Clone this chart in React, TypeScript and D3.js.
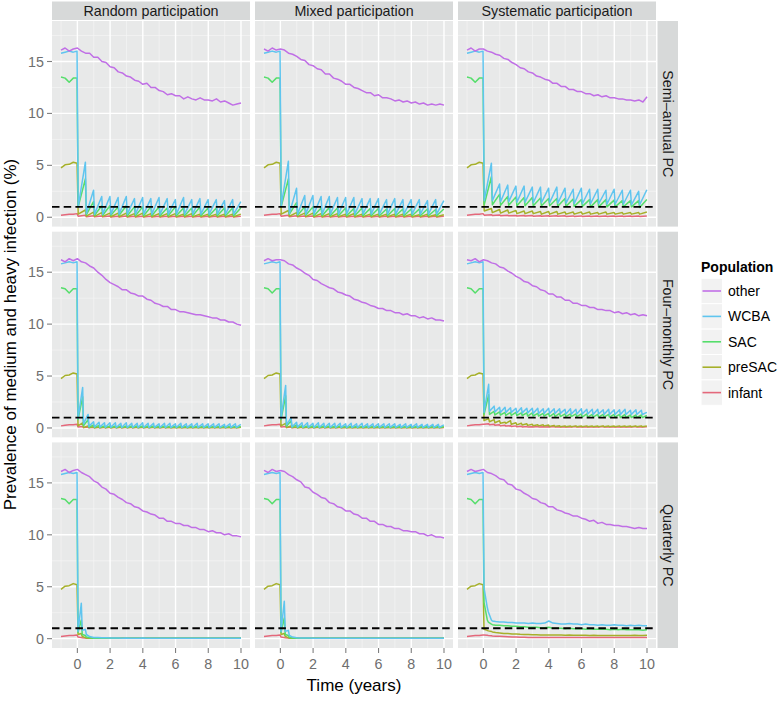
import React from "react";
import * as d3 from "d3";

// ---------- labels / categories ----------
const rowLabels = ["Semi–annual PC", "Four–monthly PC", "Quarterly PC"];
const colLabels = ["Random participation", "Mixed participation", "Systematic participation"];
const groups = ["other", "WCBA", "SAC", "preSAC", "infant"];
const groupColors = ["#C06FE6", "#5FC5EF", "#55DE6B", "#A6B02A", "#E4687B"];
const drawOrder = ["infant", "preSAC", "SAC", "WCBA", "other"];
const xTicks = [0, 2, 4, 6, 8, 10];
const xMinor = [-1, 1, 3, 5, 7, 9];
const yTicks = [0, 5, 10, 15];
const yMinor = [2.5, 7.5, 12.5, 17.5];
const threshold = 1;
const xTitle = "Time (years)";
const yTitle = "Prevalence of medium and heavy infection (%)";
const legendTitle = "Population";

// ---------- time grids (years) ----------
const tPre = [-1, -0.75, -0.5, -0.25, -0.02];
const tOther = d3.range(-1, 10.001, 0.25);
const tSemi = [...tPre, ...d3.range(20).flatMap((k) => [0.5 * k + 0.05, 0.5 * k + 0.49])];
const tFour = [...tPre, ...d3.range(30).flatMap((k) => [k / 3 + 0.04, (k + 1) / 3 - 0.01])];
const tQuarter = [...tPre, 0.04, 0.24, 0.3, 0.49, 0.55, ...d3.range(0.75, 10.001, 0.25)];

// ---------- pre-treatment values (shared) ----------
const preWCBA = [15.8, 15.9, 16.0, 15.9, 16.0];
const preSACv = [13.5, 13.4, 13.0, 13.4, 13.4];
const prePreSAC = [4.75, 5.05, 5.1, 5.3, 5.2];
const preInfant = [0.2, 0.25, 0.3, 0.3, 0.35];

// ---------- "other" (on tOther) ----------
const semiRandOther = [16.1,16.3,16.0,16.2,16.3, 16.0,15.8,15.8,15.4,15.4,15.0,14.9,14.5,14.4,14.0, 13.9,13.6,13.5,13.2,13.1,12.8,12.9,12.5,12.5,12.2, 12.1,11.8,11.9,11.7,11.7,11.4,11.6,11.4,11.3,11.5, 11.3,11.3,11.2,11.4,11.1,11.2,11.0,10.8,10.9,11.0];
const semiMixOther = [16.2,16.0,16.3,16.1,16.2, 16.1,15.8,15.7,15.5,15.2,15.1,14.7,14.6,14.3,14.2, 13.8,13.8,13.4,13.3,13.1,12.8,12.8,12.5,12.4,12.2, 12.0,12.0,11.7,11.8,11.5,11.5,11.4,11.2,11.3,11.1, 11.2,11.0,11.1,10.9,11.0,10.8,10.9,10.8,10.9,10.8];
const semiSysOther = [16.1,16.3,16.0,16.2,16.2, 16.0,15.9,15.7,15.6,15.3,15.2,14.9,14.7,14.4,14.3, 14.0,13.9,13.6,13.5,13.3,13.2,12.9,12.9,12.6,12.6, 12.3,12.3,12.1,12.1,11.9,11.9,11.7,11.8,11.6,11.7, 11.5,11.5,11.4,11.4,11.3,11.3,11.2,11.3,11.1,11.6];
const fourRandOther = [16.2,16.0,16.3,16.1,16.3, 16.0,15.9,15.6,15.4,15.0,14.7,14.3,14.0,13.8,13.6, 13.3,13.3,13.0,12.9,12.7,12.7,12.4,12.3,12.0,11.9, 11.7,11.7,11.4,11.4,11.2,11.2,11.1,11.0,10.9,10.9, 10.8,10.7,10.6,10.6,10.4,10.4,10.2,10.2,10.0,9.9];
const fourMixOther = [16.1,16.3,16.1,16.2,16.2, 16.1,15.8,15.7,15.4,15.2,14.9,14.7,14.3,14.2,13.9, 13.7,13.5,13.4,13.1,13.0,12.8,12.7,12.4,12.3,12.1, 12.0,11.8,11.7,11.5,11.5,11.3,11.3,11.1,11.1,10.9, 11.0,10.8,10.8,10.6,10.7,10.5,10.6,10.4,10.4,10.3];
const fourSysOther = [16.2,16.1,16.3,16.0,16.2, 16.1,15.9,15.8,15.5,15.4,15.1,14.9,14.6,14.4,14.1, 14.0,13.7,13.6,13.3,13.2,12.9,12.9,12.6,12.6,12.3, 12.3,12.0,12.0,11.8,11.8,11.6,11.6,11.4,11.4,11.3, 11.3,11.1,11.2,11.0,11.1,10.9,11.0,10.8,10.9,10.8];
const quarRandOther = [16.1,16.3,16.0,16.2,16.3, 16.0,15.8,15.6,15.2,15.0,14.6,14.4,14.0,13.9,13.6, 13.4,13.1,13.0,12.7,12.6,12.3,12.2,12.0,11.9,11.6, 11.6,11.3,11.3,11.1,11.1,10.9,10.9,10.7,10.7,10.5, 10.5,10.3,10.4,10.2,10.2,10.0,10.1,9.9,9.9,9.8];
const quarMixOther = [16.2,16.0,16.3,16.1,16.2, 16.1,15.8,15.6,15.3,15.1,14.6,14.5,14.1,13.9,13.6, 13.5,13.1,13.0,12.7,12.6,12.3,12.3,12.0,11.9,11.6, 11.6,11.3,11.3,11.0,11.0,10.8,10.8,10.6,10.6,10.4, 10.4,10.3,10.3,10.1,10.1,9.9,10.0,9.8,9.8,9.7];
const quarSysOther = [16.1,16.3,16.1,16.2,16.3, 16.0,15.9,15.7,15.4,15.3,14.9,14.8,14.4,14.3,14.0, 13.8,13.5,13.4,13.1,13.0,12.7,12.7,12.4,12.3,12.1, 12.0,11.8,11.8,11.6,11.5,11.3,11.4,11.1,11.2,11.0, 11.0,10.9,10.9,10.8,10.8,10.7,10.6,10.7,10.6,10.6];

// ---------- semi-annual PC (post-treatment, on tSemi) ----------
const semiRandWCBA = [1.0,5.3, 0.35,2.6, 0.3,2.0, 0.3,2.0, 0.3,1.9, 0.3,2.0, 0.3,1.8, 0.3,1.9, 0.3,1.8, 0.3,1.9, 0.3,1.8, 0.3,1.7, 0.3,1.9, 0.3,1.7, 0.3,1.8, 0.3,1.7, 0.3,1.7, 0.3,1.6, 0.3,1.7, 0.3,1.5];
const semiRandSAC = [1.0,3.7, 0.25,1.5, 0.2,1.1, 0.2,1.1, 0.2,1.0, 0.2,1.1, 0.15,1.0, 0.15,1.0, 0.15,1.0, 0.15,1.0, 0.15,0.9, 0.15,1.0, 0.15,0.9, 0.15,0.9, 0.15,1.0, 0.15,0.9, 0.15,0.9, 0.15,0.9, 0.15,0.9, 0.15,0.9];
const semiRandPre = [0.3,0.7, 0.1,0.5, 0.08,0.45, 0.08,0.4, 0.05,0.4, 0.05,0.4, 0.05,0.35, 0.05,0.4, 0.05,0.35, 0.05,0.35, 0.05,0.35, 0.05,0.35, 0.05,0.3, 0.05,0.35, 0.05,0.3, 0.05,0.3, 0.05,0.3, 0.05,0.3, 0.05,0.3, 0.05,0.3];
const semiRandInf = [0.1,0.2, 0.05,0.15, 0.04,0.12, 0.04,0.12, 0.03,0.1, 0.03,0.12, 0.03,0.1, 0.03,0.1, 0.03,0.1, 0.03,0.1, 0.03,0.1, 0.03,0.1, 0.03,0.1, 0.03,0.1, 0.03,0.1, 0.03,0.1, 0.03,0.1, 0.03,0.1, 0.03,0.1, 0.03,0.1];

const semiMixWCBA = [1.1,5.4, 0.35,2.8, 0.3,2.1, 0.3,2.1, 0.3,2.0, 0.3,2.0, 0.3,1.9, 0.3,1.9, 0.3,1.9, 0.3,1.8, 0.3,1.8, 0.3,1.8, 0.3,1.7, 0.3,1.8, 0.3,1.7, 0.3,1.7, 0.3,1.7, 0.3,1.6, 0.3,1.7, 0.3,1.6];
const semiMixSAC = [1.0,3.7, 0.3,1.4, 0.2,1.0, 0.2,1.0, 0.15,0.9, 0.15,0.95, 0.15,0.9, 0.15,0.9, 0.15,0.85, 0.15,0.9, 0.15,0.85, 0.15,0.85, 0.15,0.8, 0.15,0.85, 0.15,0.8, 0.15,0.8, 0.15,0.8, 0.15,0.8, 0.15,0.75, 0.15,0.8];
const semiMixPre = [0.3,0.65, 0.1,0.45, 0.08,0.4, 0.06,0.4, 0.05,0.35, 0.05,0.35, 0.05,0.35, 0.05,0.3, 0.05,0.35, 0.05,0.3, 0.05,0.3, 0.05,0.3, 0.05,0.3, 0.05,0.3, 0.05,0.3, 0.05,0.3, 0.05,0.25, 0.05,0.3, 0.05,0.25, 0.05,0.25];
const semiMixInf = [0.1,0.2, 0.05,0.14, 0.04,0.12, 0.04,0.11, 0.03,0.1, 0.03,0.1, 0.03,0.1, 0.03,0.1, 0.03,0.09, 0.03,0.1, 0.03,0.09, 0.03,0.1, 0.03,0.09, 0.03,0.09, 0.03,0.09, 0.03,0.09, 0.03,0.09, 0.03,0.09, 0.03,0.09, 0.03,0.09];

const semiSysWCBA = [1.6,5.2, 1.6,3.2, 1.5,3.1, 1.5,3.0, 1.45,3.0, 1.45,2.9, 1.4,2.9, 1.4,2.8, 1.4,2.9, 1.35,2.8, 1.35,2.7, 1.3,2.8, 1.3,2.7, 1.3,2.7, 1.3,2.6, 1.25,2.7, 1.25,2.6, 1.25,2.6, 1.2,2.5, 1.2,2.65];
const semiSysSAC = [1.2,3.9, 1.2,2.2, 1.15,2.0, 1.15,1.95, 1.1,1.9, 1.1,1.9, 1.1,1.85, 1.1,1.8, 1.1,1.8, 1.05,1.8, 1.05,1.75, 1.05,1.7, 1.05,1.7, 1.0,1.7, 1.0,1.7, 1.0,1.65, 1.0,1.6, 1.0,1.6, 1.0,1.6, 0.95,1.7];
const semiSysPre = [0.6,0.85, 0.45,0.75, 0.4,0.7, 0.4,0.65, 0.35,0.6, 0.35,0.6, 0.35,0.55, 0.3,0.55, 0.3,0.55, 0.3,0.5, 0.3,0.5, 0.3,0.5, 0.3,0.5, 0.3,0.45, 0.3,0.5, 0.3,0.45, 0.3,0.45, 0.3,0.45, 0.3,0.45, 0.3,0.5];
const semiSysInf = [0.2,0.25, 0.18,0.22, 0.15,0.2, 0.14,0.18, 0.12,0.17, 0.12,0.16, 0.1,0.15, 0.1,0.15, 0.1,0.14, 0.1,0.14, 0.08,0.13, 0.08,0.13, 0.08,0.12, 0.08,0.12, 0.08,0.12, 0.08,0.12, 0.08,0.12, 0.08,0.12, 0.08,0.12, 0.08,0.12];

// ---------- four-monthly PC (post-treatment, on tFour) ----------
const fourRandWCBA = [0.9,3.9, 0.4,1.3, 0.15,0.6, 0.1,0.55, 0.08,0.5, 0.06,0.5, 0.06,0.5, 0.05,0.45, 0.05,0.5, 0.05,0.45, 0.05,0.45, 0.05,0.5, 0.05,0.45, 0.05,0.45, 0.05,0.4, 0.05,0.45, 0.05,0.45, 0.05,0.4, 0.05,0.45, 0.05,0.4, 0.05,0.4, 0.05,0.45, 0.05,0.4, 0.05,0.4, 0.05,0.4, 0.05,0.4, 0.05,0.35, 0.05,0.4, 0.05,0.4, 0.05,0.35];
const fourRandSAC = [0.8,3.0, 0.2,0.8, 0.05,0.3, 0.03,0.25, 0.03,0.2, 0.03,0.2, 0.03,0.18, 0.03,0.2, 0.03,0.18, 0.03,0.18, 0.03,0.2, 0.03,0.18, 0.03,0.18, 0.03,0.18, 0.03,0.16, 0.03,0.18, 0.03,0.16, 0.03,0.16, 0.03,0.18, 0.03,0.16, 0.03,0.16, 0.03,0.16, 0.03,0.15, 0.03,0.16, 0.03,0.15, 0.03,0.15, 0.03,0.15, 0.03,0.15, 0.03,0.15, 0.03,0.14];
const fourRandPre = [0.2,0.5, 0.05,0.2, 0.04,0.12, 0.03,0.1, 0.03,0.1, 0.03,0.08, 0.03,0.1, 0.03,0.08, 0.03,0.08, 0.03,0.08, 0.03,0.08, 0.03,0.08, 0.03,0.08, 0.03,0.08, 0.03,0.07, 0.03,0.08, 0.03,0.07, 0.03,0.07, 0.03,0.07, 0.03,0.07, 0.03,0.07, 0.03,0.07, 0.03,0.07, 0.03,0.07, 0.03,0.07, 0.03,0.07, 0.03,0.07, 0.03,0.07, 0.03,0.07, 0.03,0.07];
const fourRandInf = [0.1,0.15, 0.05,0.1, 0.03,0.06, 0.03,0.06, 0.03,0.06, 0.03,0.06, 0.03,0.06, 0.03,0.06, 0.03,0.06, 0.03,0.06, 0.03,0.06, 0.03,0.06, 0.03,0.06, 0.03,0.06, 0.03,0.06, 0.03,0.06, 0.03,0.06, 0.03,0.06, 0.03,0.06, 0.03,0.06, 0.03,0.06, 0.03,0.06, 0.03,0.06, 0.03,0.06, 0.03,0.06, 0.03,0.06, 0.03,0.06, 0.03,0.06, 0.03,0.06, 0.03,0.06];

const fourMixWCBA = [0.9,4.1, 0.3,1.0, 0.1,0.55, 0.08,0.5, 0.06,0.5, 0.06,0.45, 0.05,0.5, 0.05,0.45, 0.05,0.45, 0.05,0.45, 0.05,0.45, 0.05,0.4, 0.05,0.45, 0.05,0.4, 0.05,0.45, 0.05,0.4, 0.05,0.4, 0.05,0.4, 0.05,0.4, 0.05,0.4, 0.05,0.4, 0.05,0.35, 0.05,0.4, 0.05,0.35, 0.05,0.4, 0.05,0.35, 0.05,0.35, 0.05,0.35, 0.05,0.35, 0.05,0.3];
const fourMixSAC = [0.8,3.1, 0.15,0.7, 0.05,0.3, 0.03,0.22, 0.03,0.2, 0.03,0.18, 0.03,0.2, 0.03,0.18, 0.03,0.18, 0.03,0.16, 0.03,0.18, 0.03,0.16, 0.03,0.16, 0.03,0.16, 0.03,0.15, 0.03,0.16, 0.03,0.15, 0.03,0.15, 0.03,0.15, 0.03,0.14, 0.03,0.15, 0.03,0.14, 0.03,0.14, 0.03,0.14, 0.03,0.14, 0.03,0.13, 0.03,0.14, 0.03,0.13, 0.03,0.13, 0.03,0.13];
const fourMixPre = [0.2,0.45, 0.05,0.18, 0.04,0.1, 0.03,0.1, 0.03,0.08, 0.03,0.08, 0.03,0.08, 0.03,0.08, 0.03,0.08, 0.03,0.07, 0.03,0.08, 0.03,0.07, 0.03,0.07, 0.03,0.07, 0.03,0.07, 0.03,0.07, 0.03,0.07, 0.03,0.07, 0.03,0.07, 0.03,0.06, 0.03,0.07, 0.03,0.06, 0.03,0.06, 0.03,0.06, 0.03,0.06, 0.03,0.06, 0.03,0.06, 0.03,0.06, 0.03,0.06, 0.03,0.06];
const fourMixInf = [0.1,0.15, 0.05,0.1, 0.03,0.06, 0.03,0.06, 0.03,0.06, 0.03,0.05, 0.03,0.06, 0.03,0.05, 0.03,0.05, 0.03,0.05, 0.03,0.05, 0.03,0.05, 0.03,0.05, 0.03,0.05, 0.03,0.05, 0.03,0.05, 0.03,0.05, 0.03,0.05, 0.03,0.05, 0.03,0.05, 0.03,0.05, 0.03,0.05, 0.03,0.05, 0.03,0.05, 0.03,0.05, 0.03,0.05, 0.03,0.05, 0.03,0.05, 0.03,0.05, 0.03,0.05];

const fourSysWCBA = [1.5,4.2, 1.6,2.1, 1.55,2.0, 1.5,2.0, 1.5,1.95, 1.5,1.9, 1.45,1.95, 1.45,1.9, 1.45,1.9, 1.4,1.9, 1.4,1.85, 1.4,1.9, 1.4,1.85, 1.4,1.85, 1.4,1.8, 1.35,1.85, 1.35,1.8, 1.35,1.85, 1.35,1.8, 1.35,1.8, 1.3,1.8, 1.35,1.75, 1.3,1.8, 1.3,1.75, 1.3,1.75, 1.3,1.8, 1.3,1.7, 1.3,1.75, 1.3,1.7, 1.3,1.5];
const fourSysSAC = [1.3,3.2, 1.3,1.6, 1.25,1.55, 1.25,1.5, 1.2,1.5, 1.2,1.5, 1.2,1.45, 1.2,1.45, 1.15,1.45, 1.15,1.4, 1.15,1.4, 1.15,1.4, 1.1,1.4, 1.1,1.4, 1.1,1.35, 1.1,1.35, 1.1,1.35, 1.1,1.35, 1.05,1.35, 1.05,1.3, 1.05,1.3, 1.05,1.3, 1.05,1.3, 1.05,1.3, 1.05,1.3, 1.0,1.3, 1.0,1.25, 1.0,1.25, 1.0,1.25, 1.0,1.2];
const fourSysPre = [0.7,0.9, 0.6,0.8, 0.5,0.7, 0.45,0.55, 0.45,0.7, 0.35,0.5, 0.3,0.45, 0.28,0.4, 0.25,0.35, 0.22,0.3, 0.2,0.3, 0.18,0.28, 0.15,0.25, 0.15,0.22, 0.12,0.2, 0.12,0.18, 0.12,0.2, 0.12,0.18, 0.12,0.2, 0.12,0.18, 0.12,0.18, 0.12,0.2, 0.12,0.18, 0.12,0.18, 0.12,0.2, 0.12,0.18, 0.12,0.18, 0.12,0.18, 0.12,0.2, 0.12,0.18];
const fourSysInf = [0.35,0.4, 0.3,0.35, 0.25,0.3, 0.2,0.25, 0.18,0.22, 0.15,0.2, 0.12,0.16, 0.1,0.13, 0.1,0.12, 0.1,0.13, 0.1,0.12, 0.1,0.12, 0.1,0.13, 0.1,0.12, 0.1,0.12, 0.1,0.12, 0.1,0.13, 0.1,0.12, 0.1,0.12, 0.1,0.12, 0.1,0.12, 0.1,0.13, 0.1,0.12, 0.1,0.12, 0.1,0.12, 0.1,0.12, 0.1,0.12, 0.1,0.13, 0.1,0.12, 0.1,0.12];

// ---------- quarterly PC (post-treatment, on tQuarter) ----------
const quarRandWCBA = [0.7,3.4,0.8,0.9,0.4, 0.2,0.12,0.1,0.08,0.08, 0.07,0.06,0.06,0.05,0.06, 0.05,0.05,0.05,0.06,0.05, 0.05,0.05,0.05,0.04,0.05, 0.05,0.04,0.05,0.04,0.04, 0.05,0.04,0.04,0.04,0.04, 0.04,0.04,0.04,0.03,0.04, 0.04,0.03,0.04];
const quarRandSAC = [0.6,1.8,0.4,0.3,0.15, 0.08,0.05,0.04,0.04,0.03, 0.03,0.03,0.03,0.03,0.03, 0.03,0.03,0.03,0.03,0.03, 0.03,0.03,0.03,0.03,0.03, 0.03,0.03,0.03,0.03,0.03, 0.03,0.03,0.03,0.03,0.03, 0.03,0.03,0.03,0.03,0.03, 0.03,0.03,0.03];
const quarRandPre = [0.4,0.5,0.2,0.1,0.06, 0.04,0.03,0.03,0.03,0.03, 0.03,0.03,0.03,0.03,0.03, 0.03,0.03,0.03,0.03,0.03, 0.03,0.03,0.03,0.03,0.03, 0.03,0.03,0.03,0.03,0.03, 0.03,0.03,0.03,0.03,0.03, 0.03,0.03,0.03,0.03,0.03, 0.03,0.03,0.03];
const quarRandInf = [0.15,0.1,0.08,0.06,0.05, 0.04,0.03,0.03,0.03,0.03, 0.03,0.03,0.03,0.03,0.03, 0.03,0.03,0.03,0.03,0.03, 0.03,0.03,0.03,0.03,0.03, 0.03,0.03,0.03,0.03,0.03, 0.03,0.03,0.03,0.03,0.03, 0.03,0.03,0.03,0.03,0.03, 0.03,0.03,0.03];

const quarMixWCBA = [0.7,3.6,0.7,0.8,0.3, 0.15,0.08,0.07,0.06,0.06, 0.05,0.05,0.05,0.05,0.04, 0.05,0.04,0.04,0.05,0.04, 0.04,0.04,0.04,0.04,0.04, 0.04,0.04,0.03,0.04,0.04, 0.03,0.04,0.03,0.03,0.04, 0.03,0.03,0.03,0.03,0.03, 0.03,0.03,0.03];
const quarMixSAC = [0.6,2.0,0.4,0.3,0.12, 0.06,0.04,0.03,0.03,0.03, 0.03,0.03,0.03,0.03,0.03, 0.03,0.03,0.03,0.03,0.03, 0.03,0.03,0.03,0.03,0.03, 0.03,0.03,0.03,0.03,0.03, 0.03,0.03,0.03,0.03,0.03, 0.03,0.03,0.03,0.03,0.03, 0.03,0.03,0.03];
const quarMixPre = [0.4,0.5,0.2,0.1,0.05, 0.04,0.03,0.03,0.03,0.03, 0.03,0.03,0.03,0.03,0.03, 0.03,0.03,0.03,0.03,0.03, 0.03,0.03,0.03,0.03,0.03, 0.03,0.03,0.03,0.03,0.03, 0.03,0.03,0.03,0.03,0.03, 0.03,0.03,0.03,0.03,0.03, 0.03,0.03,0.03];
const quarMixInf = [0.15,0.1,0.08,0.06,0.05, 0.04,0.03,0.03,0.03,0.03, 0.03,0.03,0.03,0.03,0.03, 0.03,0.03,0.03,0.03,0.03, 0.03,0.03,0.03,0.03,0.03, 0.03,0.03,0.03,0.03,0.03, 0.03,0.03,0.03,0.03,0.03, 0.03,0.03,0.03,0.03,0.03, 0.03,0.03,0.03];

const quarSysWCBA = [4.9,3.0,2.6,1.8,1.7, 1.65,1.6,1.6,1.55,1.55,1.5,1.5,1.5,1.45,1.5, 1.45,1.45,1.5,1.7,1.5,1.45,1.4,1.4,1.45,1.4, 1.4,1.35,1.4,1.35,1.35,1.3,1.35,1.3,1.3,1.35, 1.3,1.3,1.25,1.3,1.25,1.3,1.25,1.25];
const quarSysSAC = [3.5,1.8,1.6,1.4,1.35, 1.3,1.3,1.25,1.25,1.2,1.2,1.15,1.15,1.1,1.1, 1.1,1.05,1.05,1.1,1.0,1.0,1.0,0.95,1.0,0.95, 0.95,0.95,0.9,0.95,0.9,0.9,0.9,0.9,0.85,0.9, 0.85,0.9,0.85,0.85,0.85,0.85,0.8,0.85];
const quarSysPre = [0.9,0.8,0.75,0.7,0.65, 0.6,0.55,0.5,0.5,0.45,0.45,0.42,0.4,0.4,0.38, 0.38,0.36,0.36,0.35,0.36,0.34,0.35,0.33,0.34,0.33, 0.32,0.33,0.32,0.31,0.32,0.3,0.31,0.3,0.31,0.3, 0.3,0.31,0.3,0.3,0.32,0.3,0.3,0.32];
const quarSysInf = [0.35,0.32,0.3,0.28,0.26, 0.24,0.22,0.2,0.18,0.16,0.15,0.14,0.13,0.12,0.12, 0.11,0.1,0.11,0.1,0.1,0.11,0.1,0.1,0.11,0.1, 0.1,0.1,0.11,0.1,0.1,0.1,0.11,0.1,0.1,0.1, 0.11,0.1,0.1,0.1,0.11,0.1,0.1,0.1];

// ---------- panel table built from the arrays ----------
type Panel = { grid: number[]; other: number[]; WCBA: number[]; SAC: number[]; preSAC: number[]; infant: number[] };
const mk = (grid: number[], other: number[], w: number[], s: number[], p: number[], i: number[]): Panel => ({
  grid,
  other,
  WCBA: [...preWCBA, ...w],
  SAC: [...preSACv, ...s],
  preSAC: [...prePreSAC, ...p],
  infant: [...preInfant, ...i],
});
const panels: Panel[][] = [
  [
    mk(tSemi, semiRandOther, semiRandWCBA, semiRandSAC, semiRandPre, semiRandInf),
    mk(tSemi, semiMixOther, semiMixWCBA, semiMixSAC, semiMixPre, semiMixInf),
    mk(tSemi, semiSysOther, semiSysWCBA, semiSysSAC, semiSysPre, semiSysInf),
  ],
  [
    mk(tFour, fourRandOther, fourRandWCBA, fourRandSAC, fourRandPre, fourRandInf),
    mk(tFour, fourMixOther, fourMixWCBA, fourMixSAC, fourMixPre, fourMixInf),
    mk(tFour, fourSysOther, fourSysWCBA, fourSysSAC, fourSysPre, fourSysInf),
  ],
  [
    mk(tQuarter, quarRandOther, quarRandWCBA, quarRandSAC, quarRandPre, quarRandInf),
    mk(tQuarter, quarMixOther, quarMixWCBA, quarMixSAC, quarMixPre, quarMixInf),
    mk(tQuarter, quarSysOther, quarSysWCBA, quarSysSAC, quarSysPre, quarSysInf),
  ],
];

// ---------- layout ----------
const W = 778;
const H = 710;
const PX0 = 52;
const PW = 198;
const PGX = 5;
const PY0 = 21;
const PH = 205.6;
const PGY = 5.1;
const FONT = "'Liberation Sans', Arial, Helvetica, sans-serif";
const colorOf = (g: string) => groupColors[groups.indexOf(g)];

export default function App() {
  const xScale = d3.scaleLinear().domain([-1.55, 10.55]).range([0, PW]);
  const yScale = d3.scaleLinear().domain([-0.9, 18.9]).range([PH, 0]);
  const line = d3
    .line<[number, number]>()
    .x((d) => xScale(d[0]))
    .y((d) => yScale(d[1]));

  const panelX = (c: number) => PX0 + c * (PW + PGX);
  const panelY = (r: number) => PY0 + r * (PH + PGY);
  const gridBottom = panelY(2) + PH;
  const plotCenterY = (PY0 + gridBottom) / 2;
  const plotCenterX = (PX0 + panelX(2) + PW) / 2;

  return (
    <div style={{ position: "absolute", left: 0, top: 0, width: W, height: H, background: "#fff" }}>
      <svg width={W} height={H} style={{ display: "block", fontFamily: FONT }}>
        <rect x={0} y={0} width={W} height={H} fill="#fff" />
        {/* column strips */}
        {colLabels.map((lab, c) => (
          <g key={"cs" + c}>
            <rect x={panelX(c)} y={1.5} width={PW} height={18.5} fill="#D7D9D9" />
            <text x={panelX(c) + PW / 2} y={15.8} textAnchor="middle" fontSize={14.3} fill="#1A1A1A">
              {lab}
            </text>
          </g>
        ))}
        {/* row strips */}
        {rowLabels.map((lab, r) => {
          const cx = panelX(2) + PW + 1.5 + 10.25;
          const cy = panelY(r) + PH / 2;
          return (
            <g key={"rs" + r}>
              <rect x={panelX(2) + PW + 1.5} y={panelY(r)} width={20.5} height={PH} fill="#D7D9D9" />
              <text
                transform={`translate(${cx},${cy}) rotate(90)`}
                textAnchor="middle"
                dy="0.35em"
                fontSize={14.3}
                fill="#1A1A1A"
              >
                {lab}
              </text>
            </g>
          );
        })}
        {/* panels */}
        {panels.map((row, r) =>
          row.map((p, c) => (
            <g key={`p${r}-${c}`} transform={`translate(${panelX(c)},${panelY(r)})`}>
              <rect x={0} y={0} width={PW} height={PH} fill="#E8E9E9" />
              {xMinor.map((v) => (
                <line key={"xm" + v} x1={xScale(v)} x2={xScale(v)} y1={0} y2={PH} stroke="#F5F5F5" strokeWidth={0.7} />
              ))}
              {yMinor.map((v) => (
                <line key={"ym" + v} x1={0} x2={PW} y1={yScale(v)} y2={yScale(v)} stroke="#F5F5F5" strokeWidth={0.7} />
              ))}
              {xTicks.map((v) => (
                <line key={"xM" + v} x1={xScale(v)} x2={xScale(v)} y1={0} y2={PH} stroke="#FFFFFF" strokeWidth={1.4} />
              ))}
              {yTicks.map((v) => (
                <line key={"yM" + v} x1={0} x2={PW} y1={yScale(v)} y2={yScale(v)} stroke="#FFFFFF" strokeWidth={1.4} />
              ))}
              {drawOrder.map((g) => {
                const vals = (p as any)[g] as number[];
                const ts = g === "other" ? tOther : p.grid;
                const n = Math.min(vals.length, ts.length);
                const pts: [number, number][] = d3.range(n).map((i) => [ts[i], vals[i]]);
                return (
                  <path
                    key={g}
                    d={line(pts) || ""}
                    fill="none"
                    stroke={colorOf(g)}
                    strokeWidth={1.5}
                    strokeLinejoin="round"
                  />
                );
              })}
              <line
                x1={0}
                x2={PW}
                y1={yScale(threshold)}
                y2={yScale(threshold)}
                stroke="#000"
                strokeWidth={1.8}
                strokeDasharray="7.5 4.2"
              />
            </g>
          ))
        )}
        {/* y axes (left column) */}
        {rowLabels.map((_, r) => (
          <g key={"ya" + r} transform={`translate(${PX0},${panelY(r)})`}>
            {yTicks.map((v) => (
              <g key={v}>
                <line x1={-5} x2={0} y1={yScale(v)} y2={yScale(v)} stroke="#7F7F7F" strokeWidth={1.1} />
                <text x={-8} y={yScale(v)} dy="0.35em" textAnchor="end" fontSize={14.3} fill="#6E6E6E">
                  {v}
                </text>
              </g>
            ))}
          </g>
        ))}
        {/* x axes (bottom row) */}
        {colLabels.map((_, c) => (
          <g key={"xa" + c} transform={`translate(${panelX(c)},${gridBottom})`}>
            {xTicks.map((v) => (
              <g key={v}>
                <line x1={xScale(v)} x2={xScale(v)} y1={0} y2={5} stroke="#7F7F7F" strokeWidth={1.1} />
                <text x={xScale(v)} y={21} textAnchor="middle" fontSize={14.3} fill="#6E6E6E">
                  {v}
                </text>
              </g>
            ))}
          </g>
        ))}
        {/* axis titles */}
        <text x={plotCenterX} y={691} textAnchor="middle" fontSize={17} fill="#000">
          {xTitle}
        </text>
        <text
          transform={`translate(16,${plotCenterY}) rotate(-90)`}
          textAnchor="middle"
          fontSize={17}
          fill="#000"
        >
          {yTitle}
        </text>
        {/* legend */}
        <g transform="translate(701,0)">
          <text x={0} y={272} fontSize={14} fontWeight="bold" fill="#000">
            {legendTitle}
          </text>
          {groups.map((g, i) => {
            const y0 = 278.3 + i * 25.4;
            return (
              <g key={g}>
                <rect x={0} y={y0} width={21.5} height={25.4} fill="#F2F2F2" stroke="#FFFFFF" strokeWidth={1} />
                <line x1={1.5} x2={20} y1={y0 + 12.7} y2={y0 + 12.7} stroke={colorOf(g)} strokeWidth={1.6} />
                <text x={27} y={y0 + 12.7} dy="0.35em" fontSize={14} fill="#000">
                  {g}
                </text>
              </g>
            );
          })}
        </g>
      </svg>
    </div>
  );
}
